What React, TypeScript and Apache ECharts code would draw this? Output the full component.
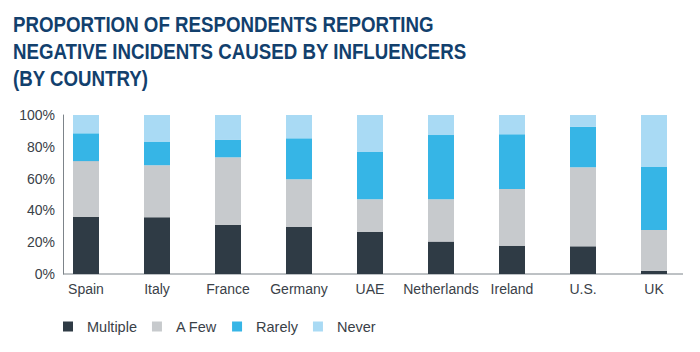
import React, { useEffect, useRef } from "react";
import * as echarts from "echarts";

const titleLines = [
  "PROPORTION OF RESPONDENTS REPORTING",
  "NEGATIVE INCIDENTS CAUSED BY INFLUENCERS",
  "(BY COUNTRY)",
];
const countries = ["Spain", "Italy", "France", "Germany", "UAE", "Netherlands", "Ireland", "U.S.", "UK"];
const multiple = [36, 35.7, 31, 29.6, 26.4, 20.4, 17.8, 17.4, 1.9];
const aFew = [35, 32.7, 42.4, 30, 20.6, 26.6, 35.7, 49.7, 25.8];
const rarely = [17.5, 14.9, 10.9, 25.7, 29.7, 40.4, 34.4, 25.4, 39.6];
const never = [11.5, 16.7, 15.7, 14.7, 23.3, 12.6, 12.1, 7.5, 32.7];
const yTicks = [0, 20, 40, 60, 80, 100];

const seriesDefs = [
  { name: "Multiple", data: multiple, color: "#2f3b45" },
  { name: "A Few", data: aFew, color: "#c7cacd" },
  { name: "Rarely", data: rarely, color: "#36b5e6" },
  { name: "Never", data: never, color: "#a9daf4" },
];

const FONT = "'Liberation Sans', Arial, sans-serif";

export default function App() {
  const ref = useRef<HTMLDivElement>(null);
  useEffect(() => {
    if (!ref.current) return;
    const chart = echarts.init(ref.current, undefined, { renderer: "svg" });
    chart.setOption({
      animation: false,
      backgroundColor: "#ffffff",
      legend: {
        left: 63,
        top: 319,
        itemWidth: 10,
        itemHeight: 10,
        itemGap: 15,
        icon: "rect",
        padding: 0,
        textStyle: {
          fontFamily: FONT,
          fontSize: 14.5,
          color: "#3a4148",
          padding: [0, 0, 0, 9],
        },
        data: seriesDefs.map((s) => s.name),
      },
      grid: { left: 50.5, right: 10.5, top: 115, bottom: 78, containLabel: false },
      xAxis: {
        type: "category",
        data: countries,
        axisLine: { show: false },
        axisTick: { show: false },
        axisLabel: { fontFamily: FONT, fontSize: 14, color: "#3a4148", margin: 8, interval: 0 },
      },
      yAxis: {
        type: "value",
        min: 0,
        max: 100,
        interval: 20,
        offset: -12.5,
        axisLine: { show: true, lineStyle: { color: "#7d848a", width: 1 } },
        axisTick: { show: false },
        splitLine: { show: false },
        axisLabel: {
          fontFamily: FONT,
          fontSize: 14,
          color: "#3a4148",
          margin: 8,
          formatter: (v: number) => (yTicks.includes(v) ? v + "%" : ""),
        },
      },
      graphic: [
        {
          type: "text",
          x: 13,
          y: 11,
          scaleX: 0.85,
          silent: true,
          style: {
            text: titleLines.join("\n"),
            font: "bold 22px 'Liberation Sans', Arial, sans-serif",
            lineHeight: 27,
            fill: "#12406d",
            verticalAlign: "top",
            align: "left",
          },
        },
        {
          type: "line",
          shape: { x1: 63, y1: 274, x2: 683, y2: 274 },
          style: { stroke: "#7d848a", lineWidth: 1 },
          silent: true,
        },
      ],
      series: seriesDefs.map((s) => ({
        name: s.name,
        type: "bar",
        stack: "total",
        barWidth: 26,
        data: s.data,
        itemStyle: { color: s.color },
      })),
    });
    return () => chart.dispose();
  }, []);
  return <div ref={ref} style={{ width: 700, height: 352, position: "fixed", left: 0, top: 0 }} />;
}
